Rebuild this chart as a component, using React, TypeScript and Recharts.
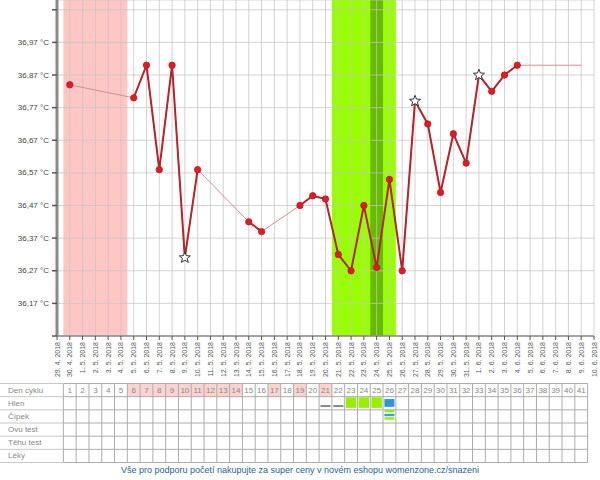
import React from 'react';
import { ComposedChart, Line, XAxis, YAxis, CartesianGrid, ReferenceArea, Scatter } from 'recharts';

const dateLabels: string[] = [
  '29. 4. 2018', '30. 4. 2018',
  '1. 5. 2018', '2. 5. 2018', '3. 5. 2018', '4. 5. 2018', '5. 5. 2018', '6. 5. 2018', '7. 5. 2018',
  '8. 5. 2018', '9. 5. 2018', '10. 5. 2018', '11. 5. 2018', '12. 5. 2018', '13. 5. 2018', '14. 5. 2018',
  '15. 5. 2018', '16. 5. 2018', '17. 5. 2018', '18. 5. 2018', '19. 5. 2018', '20. 5. 2018', '21. 5. 2018',
  '22. 5. 2018', '23. 5. 2018', '24. 5. 2018', '25. 5. 2018', '26. 5. 2018', '27. 5. 2018', '28. 5. 2018',
  '29. 5. 2018', '30. 5. 2018', '31. 5. 2018',
  '1. 6. 2018', '2. 6. 2018', '3. 6. 2018', '4. 6. 2018', '5. 6. 2018', '6. 6. 2018', '7. 6. 2018',
  '8. 6. 2018', '9. 6. 2018', '10. 6. 2018',
];

const temperatures: (number | null)[] = [
  null, 36.84, null, null, null, null, 36.80, 36.90, 36.58, 36.90,
  36.31, 36.58, null, null, null, 36.42, 36.39, null, null, 36.47,
  36.50, 36.49, 36.32, 36.27, 36.47, 36.28, 36.55, 36.27, 36.79, 36.72,
  36.51, 36.69, 36.60, 36.87, 36.82, 36.87, 36.90, null, null, null,
  null, null, null,
];

const starIndices: number[] = [10, 28, 33];
const projectionIndex = 41;
const projectionValue = 36.90;

const menstruationRange: [number, number] = [1, 5];
const fertileRange: [number, number] = [22, 26];
const ovulationIndex = 25;

const yTicks: number[] = [36.07, 36.17, 36.27, 36.37, 36.47, 36.57, 36.67, 36.77, 36.87, 36.97, 37.07];
const yTickLabels: string[] = ['', '36,17 °C', '36,27 °C', '36,37 °C', '36,47 °C', '36,57 °C', '36,67 °C', '36,77 °C', '36,87 °C', '36,97 °C', ''];
const yDomain: [number, number] = [36.07, 37.10];

const rowLabels: string[] = ['Den cyklu', 'Hlen', 'Čípek', 'Ovu test', 'Těhu test', 'Léky'];
const cycleDays: number[] = Array.from({ length: 41 }, (_, k) => k + 1);
const pinkCycleDays: number[] = [6, 7, 8, 9, 10, 11, 12, 13, 14, 17, 19, 21];
const hlenMarks: { day: number; kind: string }[] = [
  { day: 21, kind: 'dash' }, { day: 22, kind: 'dash' },
  { day: 23, kind: 'green' }, { day: 24, kind: 'green' }, { day: 25, kind: 'green' },
  { day: 26, kind: 'blue' },
];
const cipekMarks: { day: number; kind: string }[] = [{ day: 26, kind: 'stripes' }];

const FONT = '"Liberation Sans", Arial, sans-serif';
const W = 600;
const Y_AXIS_W = 57;
const RIGHT_M = 6;
const CHART1_H = 383;
const X_AXIS_H = 47;
const TABLE_H = 80;
const LABEL_COL_W = 63.4;
const TABLE_TOP_M = 0.5;
const ROW_H = (TABLE_H - 1) / 6;

const data = dateLabels.map((label, i) => ({
  i,
  label,
  temp: temperatures[i],
  trend: i === projectionIndex ? projectionValue : temperatures[i],
}));

const xTicks = dateLabels.map((_, i) => i);

const XTick = (props: any) => {
  const { x, y, payload } = props;
  return (
    <text
      transform={`translate(${x},${y}) rotate(-90)`}
      textAnchor="end"
      dominantBaseline="central"
      fontSize={7}
      fill="#555"
      fontFamily={FONT}
    >
      {dateLabels[payload.value]}
    </text>
  );
};

const YTick = (props: any) => {
  const { x, y, payload } = props;
  const idx = yTicks.indexOf(payload.value);
  return (
    <text x={x} y={y} textAnchor="end" dominantBaseline="central" fontSize={8} fill="#444" fontFamily={FONT}>
      {idx >= 0 ? yTickLabels[idx] : ''}
    </text>
  );
};

const star = (cx: number, cy: number, key: string) => {
  const pts: string[] = [];
  for (let k = 0; k < 10; k++) {
    const r = k % 2 === 0 ? 5.8 : 2.5;
    const a = -Math.PI / 2 + (k * Math.PI) / 5;
    pts.push(`${cx + r * Math.cos(a)},${cy + r * Math.sin(a)}`);
  }
  return <polygon key={key} points={pts.join(' ')} fill="#fff" stroke="#333" strokeWidth={1} />;
};

const renderDot = (props: any) => {
  const { cx, cy, payload, index } = props;
  const key = `dot-${index}`;
  if (payload == null || payload.temp == null || cx == null || cy == null) return <g key={key} />;
  if (starIndices.includes(payload.i)) return star(cx, cy, key);
  return <circle key={key} cx={cx} cy={cy} r={3.2} fill="#dd1c24" stroke="#c0181f" strokeWidth={0.8} />;
};

const RowTick = (props: any) => {
  const { y, payload } = props;
  const v = payload.value as number;
  return (
    <g>
      <line x1={0} x2={LABEL_COL_W} y1={y} y2={y} stroke="#c8c8c8" strokeWidth={1} />
      {v < rowLabels.length ? (
        <text x={8} y={y + ROW_H / 2} dominantBaseline="central" fontSize={8} fill="#888" fontFamily={FONT}>
          {rowLabels[v]}
        </text>
      ) : null}
    </g>
  );
};

const dayNumberShape = (props: any) => {
  const { cx, cy, payload } = props;
  return (
    <text x={cx} y={cy} textAnchor="middle" dominantBaseline="central" fontSize={8} fill="#888" fontFamily={FONT}>
      {payload.day}
    </text>
  );
};

const markShape = (props: any) => {
  const { cx, cy, payload } = props;
  if (payload.kind === 'dash') {
    return <rect x={cx - 5} y={cy + 1.8} width={10} height={2} fill="#888" />;
  }
  if (payload.kind === 'green') {
    return <rect x={cx - 5.2} y={cy - 6} width={10.4} height={10.6} fill="#99ee00" />;
  }
  if (payload.kind === 'blue') {
    return <rect x={cx - 5} y={cy - 4.2} width={10} height={7.8} fill="#2d96dd" />;
  }
  if (payload.kind === 'stripes') {
    return (
      <g>
        <rect x={cx - 5} y={cy - 6.6} width={10} height={2.4} fill="#99ee00" />
        <rect x={cx - 5} y={cy - 2.6} width={10} height={2.4} fill="#22aadd" />
        <rect x={cx - 5} y={cy + 0.8} width={10} height={2.4} fill="#99ee00" />
      </g>
    );
  }
  return <g />;
};

const tableDayData = cycleDays.map((d) => ({ x: d, y: 0.5, day: d }));
const tableHlenData = hlenMarks.map((m) => ({ x: m.day, y: 1.5, kind: m.kind }));
const tableCipekData = cipekMarks.map((m) => ({ x: m.day, y: 2.5, kind: m.kind }));
const tableXTicks = [0, ...cycleDays].map((d) => d + 0.5);
const tableYTicks = [0, 1, 2, 3, 4, 5, 6];

export default function App() {
  return (
    <div style={{ position: 'fixed', left: 0, top: 0, width: W, height: 480, background: '#fff', fontFamily: FONT }}>
      <ComposedChart width={W} height={CHART1_H} data={data} margin={{ top: 0, right: RIGHT_M, bottom: 0, left: 0 }}>
        <ReferenceArea
          x1={menstruationRange[0] - 0.5}
          x2={menstruationRange[1] + 0.5}
          fill="#ffc6c6"
          fillOpacity={1}
          stroke="none"
          zIndex={-200}
        />
        <ReferenceArea
          x1={fertileRange[0] - 0.5}
          x2={fertileRange[1] + 0.5}
          fill="#99ff00"
          fillOpacity={1}
          stroke="none"
          zIndex={-200}
        />
        <ReferenceArea
          x1={ovulationIndex - 0.5}
          x2={ovulationIndex + 0.5}
          fill="#66bb00"
          fillOpacity={1}
          stroke="none"
          zIndex={-190}
        />
        <CartesianGrid stroke="#c4c4c4" strokeOpacity={0.75} zIndex={-100} />
        <XAxis
          dataKey="i"
          type="number"
          domain={[0, dateLabels.length - 1]}
          ticks={xTicks}
          interval={0}
          allowDataOverflow
          height={X_AXIS_H}
          tick={<XTick />}
          tickSize={4}
          tickMargin={2}
          tickLine={{ stroke: '#555' }}
          axisLine={{ stroke: '#8a8a8a', strokeWidth: 1.5 }}
        />
        <YAxis
          type="number"
          domain={yDomain}
          ticks={yTicks}
          interval={0}
          allowDataOverflow
          width={Y_AXIS_W}
          tick={<YTick />}
          tickSize={5}
          tickMargin={3}
          tickLine={{ stroke: '#555', strokeWidth: 1.5 }}
          axisLine={{ stroke: '#8a8a8a', strokeWidth: 3 }}
        />
        <Line
          dataKey="trend"
          connectNulls
          dot={false}
          activeDot={false}
          stroke="#d09090"
          strokeWidth={1}
          isAnimationActive={false}
        />
        <Line
          dataKey="temp"
          connectNulls={false}
          dot={renderDot}
          activeDot={false}
          stroke="#b3262c"
          strokeWidth={2}
          isAnimationActive={false}
        />
      </ComposedChart>
      <ComposedChart
        width={W}
        height={TABLE_H}
        margin={{ top: TABLE_TOP_M, right: RIGHT_M + 6.4, bottom: TABLE_TOP_M, left: 0 }}
      >
        {pinkCycleDays.map((d) => (
          <ReferenceArea
            key={`pink-${d}`}
            x1={d - 0.5}
            x2={d + 0.5}
            y1={0}
            y2={1}
            fill="#fbd3cf"
            fillOpacity={1}
            stroke="none"
            zIndex={-200}
          />
        ))}
        <CartesianGrid stroke="#acacac" zIndex={-100} />
        <XAxis
          dataKey="x"
          type="number"
          domain={[0.5, cycleDays.length + 0.5]}
          ticks={tableXTicks}
          interval={0}
          allowDataOverflow
          hide
        />
        <YAxis
          dataKey="y"
          type="number"
          domain={[0, 6]}
          reversed
          ticks={tableYTicks}
          interval={0}
          allowDataOverflow
          width={LABEL_COL_W}
          tick={<RowTick />}
          tickLine={false}
          axisLine={false}
        />
        <Scatter data={tableDayData} shape={dayNumberShape} isAnimationActive={false} />
        <Scatter data={tableHlenData} shape={markShape} isAnimationActive={false} />
        <Scatter data={tableCipekData} shape={markShape} isAnimationActive={false} />
      </ComposedChart>
      <div
        style={{
          position: 'absolute',
          left: 0,
          top: 464,
          width: W,
          textAlign: 'center',
          fontSize: 9,
          color: '#245f9c',
          fontFamily: FONT,
          lineHeight: '12px',
        }}
      >
        Vše pro podporu početí nakupujte za super ceny v novém eshopu womenzone.cz/snazeni
      </div>
    </div>
  );
}
